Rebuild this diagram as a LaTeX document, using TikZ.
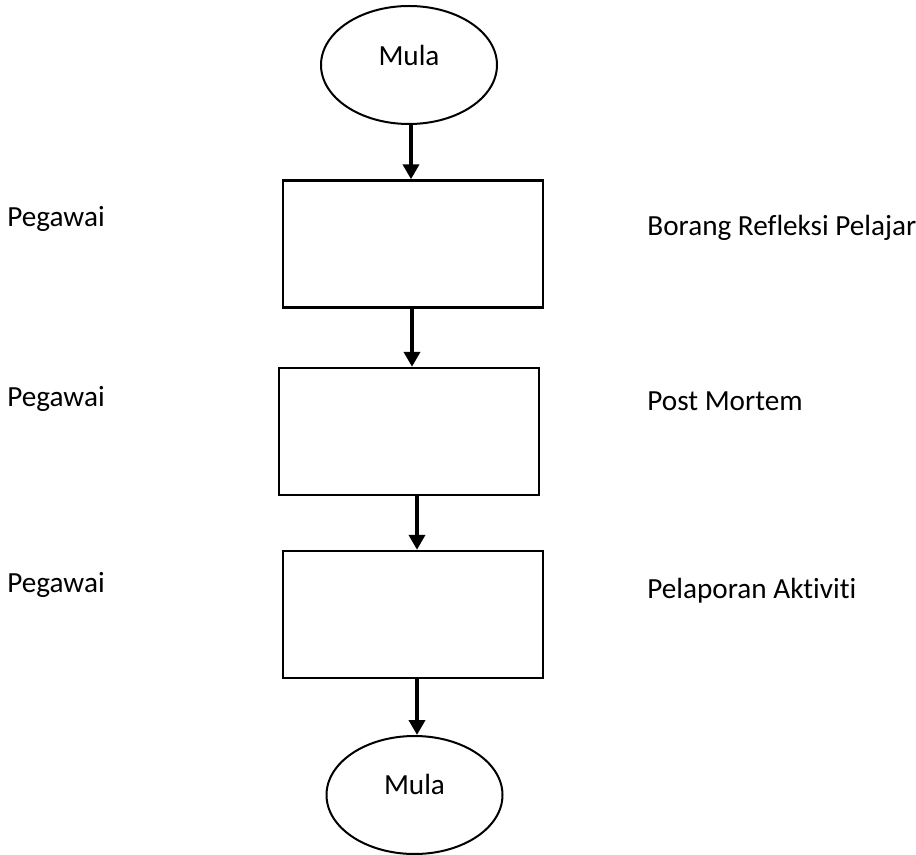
\documentclass[tikz,border=0pt]{standalone}
\usepackage{fontspec}
\setmainfont{Carlito}[Ligatures={NoCommon}]
\usepackage{tikz}
\usetikzlibrary{positioning, shapes.geometric, arrows.meta}

\begin{document}
\begin{tikzpicture}[x=0.5pt, y=-0.5pt,
    every node/.style={font=\fontsize{14.6}{17}\selectfont},
    terminal/.style={draw, ellipse, line width=1pt, minimum width=88pt, minimum height=59pt, inner sep=0pt},
    process/.style={draw, rectangle, line width=1.2pt, minimum width=130pt, minimum height=63.5pt, inner sep=0pt},
    flow/.style={-{Triangle[width=8pt, length=7.5pt]}, line width=2pt},
    side/.style={anchor=base west, inner sep=0pt}]
    \useasboundingbox (0,0) rectangle (916,855);

    % mula dan tamat
    \node[terminal, label={[yshift=5pt]center:Mula}] (start) at (409,65) {};
    \node[terminal, label={[yshift=5.5pt]center:Mula}] (stop) at (414.5,795) {};

    % kotak proses
    \node[process] (box1) at (413,244) {};
    \node[process] (box2) at (409,431.5) {};
    \node[process] (box3) at (413,614.5) {};

    % anak panah
    \draw[flow] ([xshift=1pt]start.south) -- ([xshift=1pt]start.south |- box1.north);
    \draw[flow] ([xshift=-0.5pt]box1.south) -- ([xshift=-0.5pt]box1.south |- box2.north);
    \draw[flow] ([xshift=2pt]box3.north |- box2.south) -- ([xshift=2pt]box3.north);
    \draw[flow] ([xshift=2pt]box3.south) -- ([xshift=2pt]box3.south |- stop.north);

    % pegawai (kiri)
    \node[side] (who1) at (7,227) {Pegawai};
    \node[side] (who2) at (7,407) {Pegawai};
    \node[side] (who3) at (7,592) {Pegawai};

    % dokumen (kanan)
    \node[side] (doc1) at (647,236) {Borang Refleksi Pelajar};
    \node[side] (doc2) at (647,411) {Post Mortem};
    \node[side] (doc3) at (647,598) {Pelaporan Aktiviti};
\end{tikzpicture}
\end{document}
